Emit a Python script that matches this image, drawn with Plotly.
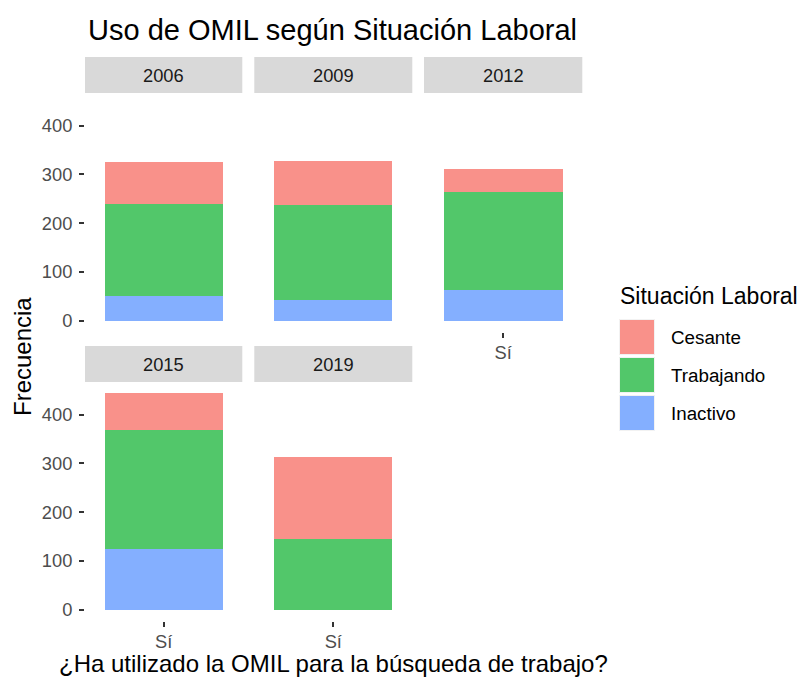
import plotly.graph_objects as go

# ---- data ----
years = ["2006", "2009", "2012", "2015", "2019"]
legend_order = ["Cesante", "Trabajando", "Inactivo"]
cesante = [85, 91, 48, 77, 168]
trabajando = [190, 194, 201, 244, 145]
inactivo = [50, 43, 63, 124, 0]
x_cats = ["Sí"]
y_ticks = [0, 100, 200, 300, 400]

colors = {"Cesante": "#F9918A", "Trabajando": "#52C76A", "Inactivo": "#84AFFF"}

# page body has an 8px margin: work in page pixels and shift into the figure
OFF = 8
W, H = 805 - OFF, 677 - OFF
FONT = "Liberation Sans, Arial, Helvetica, sans-serif"


def fx(px):
    return (px - OFF) / W


def fy(py):
    return 1 - (py - OFF) / H


col_x = [(85, 242.3), (254.3, 412.3), (424, 582.3)]
row_y = [(93, 331.5), (382, 620.5)]
STRIP_H = 36
SMALL = 18.3

series = [("Inactivo", inactivo), ("Trabajando", trabajando), ("Cesante", cesante)]
totals = [c + t + i for c, t, i in zip(cesante, trabajando, inactivo)]
ymax = max(totals)
yrange = [-0.05 * ymax, 1.05 * ymax]

fig = go.Figure()
layout = {}
shapes = []
annotations = []

n_panels = len(years)
for k, year in enumerate(years):
    r, c = divmod(k, 3)
    sfx = "" if k == 0 else str(k + 1)
    for name, vals in series:
        fig.add_trace(go.Bar(
            x=x_cats, y=[vals[k]], name=name,
            marker=dict(color=colors[name], line=dict(width=0)),
            width=0.9, xaxis="x" + sfx, yaxis="y" + sfx,
            showlegend=False, legendgroup=name,
        ))
    x0, x1 = col_x[c]
    y0, y1 = row_y[r]
    show_x = (r == 1) or (k + 3 >= n_panels)
    show_y = (c == 0)
    layout["xaxis" + sfx] = dict(
        domain=[fx(x0), fx(x1)], anchor="y" + sfx, range=[-0.6, 0.6],
        type="category", showgrid=False, zeroline=False, showline=False,
        showticklabels=show_x, ticks="outside" if show_x else "",
        ticklen=5, tickwidth=2, tickcolor="#333333",
        tickfont=dict(family=FONT, size=SMALL, color="#4D4D4D"),
        fixedrange=True,
    )
    layout["yaxis" + sfx] = dict(
        domain=[fy(y1), fy(y0)], anchor="x" + sfx, range=yrange,
        tickvals=y_ticks, showgrid=False, zeroline=False, showline=False,
        showticklabels=show_y, ticks="outside" if show_y else "",
        ticklen=5, tickwidth=2, tickcolor="#333333", ticklabelstandoff=3,
        tickfont=dict(family=FONT, size=SMALL, color="#4D4D4D"),
        fixedrange=True,
    )
    shapes.append(dict(type="rect", xref="paper", yref="paper",
                       x0=fx(x0), x1=fx(x1),
                       y0=fy(y0), y1=fy(y0 - STRIP_H),
                       fillcolor="#D9D9D9", line=dict(width=0), layer="below"))
    annotations.append(dict(text=year, xref="paper", yref="paper",
                            x=fx((x0 + x1) / 2), y=fy(y0 - STRIP_H / 2),
                            xanchor="center", yanchor="middle", showarrow=False,
                            font=dict(family=FONT, size=SMALL, color="#1A1A1A")))

# axis titles
annotations.append(dict(text="Frecuencia", xref="paper", yref="paper",
                        x=fx(22), y=fy(357), textangle=-90,
                        xanchor="center", yanchor="middle", showarrow=False,
                        font=dict(family=FONT, size=24, color="#000000")))
annotations.append(dict(text="¿Ha utilizado la OMIL para la búsqueda de trabajo?",
                        xref="paper", yref="paper",
                        x=fx(333.5), y=fy(663),
                        xanchor="center", yanchor="middle", showarrow=False,
                        font=dict(family=FONT, size=24, color="#000000")))

# custom legend
annotations.append(dict(text="Situación Laboral", xref="paper", yref="paper",
                        x=fx(618), y=fy(296), xanchor="left", yanchor="middle",
                        showarrow=False,
                        font=dict(family=FONT, size=23, color="#000000")))
key_top = 319.5
key_size = 35
key_pitch = 38
for i, name in enumerate(legend_order):
    ty = key_top + i * key_pitch
    shapes.append(dict(type="rect", xref="paper", yref="paper",
                       x0=fx(619.5), x1=fx(619.5 + key_size),
                       y0=fy(ty + key_size), y1=fy(ty),
                       fillcolor=colors[name], line=dict(width=1, color="#F2F2F2")))
    annotations.append(dict(text=name, xref="paper", yref="paper",
                            x=fx(669), y=fy(ty + key_size / 2),
                            xanchor="left", yanchor="middle", showarrow=False,
                            font=dict(family=FONT, size=18.8, color="#000000")))

fig.update_layout(
    width=W, height=H,
    margin=dict(l=0, r=0, t=0, b=0),
    paper_bgcolor="white", plot_bgcolor="white",
    barmode="stack", bargap=0,
    showlegend=False,
    title=dict(text="Uso de OMIL según Situación Laboral",
               x=fx(88), xanchor="left", y=fy(30), yanchor="middle",
               font=dict(family=FONT, size=29, color="#000000")),
    font=dict(family=FONT),
    shapes=shapes, annotations=annotations,
    **layout,
)

fig.write_html("out.html")
